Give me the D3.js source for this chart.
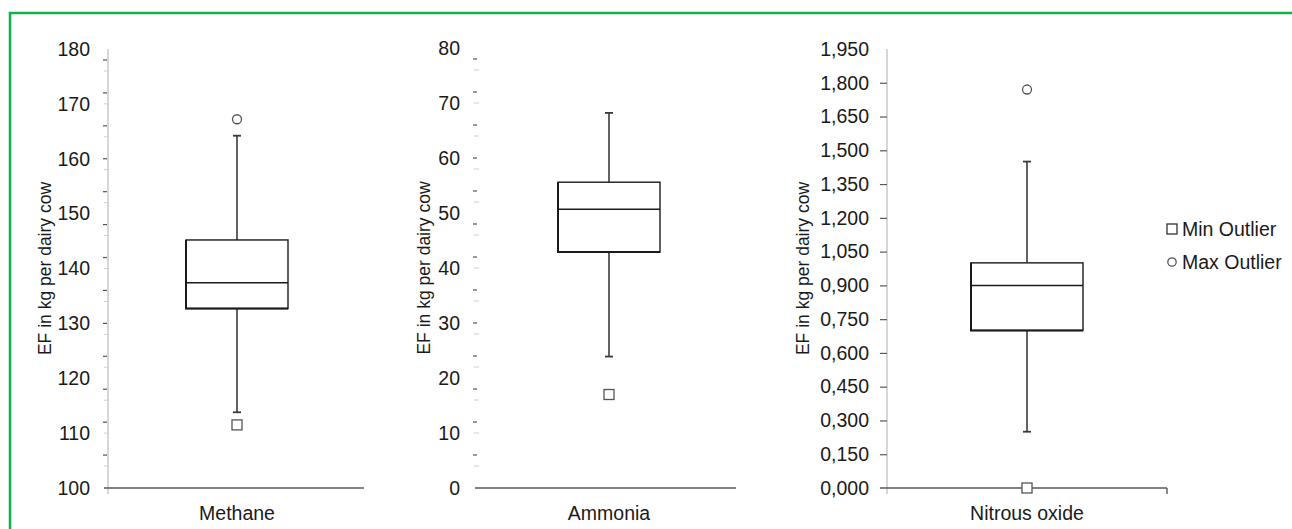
<!DOCTYPE html>
<html>
<head>
<meta charset="utf-8">
<script src="https://cdn.jsdelivr.net/npm/d3@7"></script>
<style>
  body { margin: 0; background: #fff; }
  svg text { font-family: "Liberation Sans", Arial, sans-serif; fill: #1a1a1a; }
</style>
</head>
<body>
<svg id="chart" width="1292" height="529"></svg>
<script>
// box plot values
var categories  = ["Methane", "Ammonia", "Nitrous oxide"];
var whiskerLow  = [113.8, 23.9, 0.25];
var q1          = [132.7, 42.9, 0.70];
var median      = [137.4, 50.7, 0.90];
var q3          = [145.2, 55.6, 1.00];
var whiskerHigh = [164.2, 68.2, 1.45];
var minOutlier  = [111.5, 17.0, 0.00];
var maxOutlier  = [167.2, null, 1.77];

var ticks1 = [100, 110, 120, 130, 140, 150, 160, 170, 180];
var ticks2 = [0, 10, 20, 30, 40, 50, 60, 70, 80];
var ticks3 = [0, 0.15, 0.30, 0.45, 0.60, 0.75, 0.90, 1.05, 1.20, 1.35, 1.50, 1.65, 1.80, 1.95];
var ticks3Labels = ["0,000","0,150","0,300","0,450","0,600","0,750","0,900","1,050","1,200","1,350","1,500","1,650","1,800","1,950"];

var legendLabels = ["Min Outlier", "Max Outlier"];

var svg = d3.select("#chart");

// green frame
svg.append("rect")
   .attr("x", 10).attr("y", 13)
   .attr("width", 1300).attr("height", 540)
   .attr("fill", "none")
   .attr("stroke", "#12b04c")
   .attr("stroke-width", 2.5);

var panels = [
  {axisX: 108, xStart: 104, xEnd: 364, cx: 237, boxW: 102, titleX: 45,
   domain: [100, 180], top: 49, ticks: ticks1, labels: null, minorFrom: 100, grayAxis: true, majorTicks: false},
  {axisX: 478, xStart: 475, xEnd: 736, cx: 609, boxW: 102, titleX: 424,
   domain: [0, 80], top: 48, ticks: ticks2, labels: null, minorFrom: 0, grayAxis: false, majorTicks: false},
  {axisX: 887, xStart: 880, xEnd: 1167, cx: 1027, boxW: 112, titleX: 803,
   domain: [0, 1.95], top: 49, ticks: ticks3, labels: ticks3Labels, minorFrom: null, grayAxis: true, majorTicks: true}
];

var baseY = 488;

panels.forEach(function(p, i){

  var y = d3.scaleLinear().domain(p.domain).range([baseY, p.top]);
  var g = svg.append("g");
  var boxW = p.boxW;

  // vertical axis line
  if (p.grayAxis) {
    g.append("line")
     .attr("x1", p.axisX).attr("x2", p.axisX)
     .attr("y1", p.top).attr("y2", baseY + 6)
     .attr("stroke", "#bdbdbd").attr("stroke-width", 1.2);
  }

  // odd minor ticks of the excel chart (two offset series)
  if (p.minorFrom !== null) {
    var dark = d3.range(p.minorFrom + 6, p.domain[1], 6);
    var light = d3.range(p.minorFrom + 4, p.domain[1], 6);
    g.selectAll(".lt").data(light).enter().append("line")
     .attr("x1", p.axisX - 4).attr("x2", p.axisX + 1)
     .attr("y1", function(d){ return y(d); })
     .attr("y2", function(d){ return y(d); })
     .attr("stroke", "#cfcfcf").attr("stroke-width", 1);
    g.selectAll(".dk").data(dark).enter().append("line")
     .attr("x1", p.axisX - 5).attr("x2", p.axisX - 1)
     .attr("y1", function(d){ return y(d); })
     .attr("y2", function(d){ return y(d); })
     .attr("stroke", "#555").attr("stroke-width", 1.2);
  }

  // tick labels
  var ax = d3.axisLeft(y)
             .tickValues(p.ticks)
             .tickSize(p.majorTicks ? 7 : 0)
             .tickPadding(p.majorTicks ? 11 : 18)
             .tickFormat(function(d, k){ return p.labels ? p.labels[k] : d; });
  var axG = g.append("g")
             .attr("transform", "translate(" + p.axisX + ",0)")
             .call(ax);
  axG.select(".domain").remove();
  axG.selectAll("text").style("font-size", "19.5px").attr("fill", "#1a1a1a")
     .style("font-family", "'Liberation Sans', Arial, sans-serif");
  axG.selectAll(".tick line").attr("stroke", "#595959").attr("stroke-width", 1.2)
     .filter(function(d){ return d === 0 || d === p.domain[1]; }).remove();

  // x axis line
  g.append("line")
   .attr("x1", p.xStart).attr("x2", p.xEnd)
   .attr("y1", baseY).attr("y2", baseY)
   .attr("stroke", "#595959").attr("stroke-width", 1.4);
  if (i === 2) {
    g.append("line")
     .attr("x1", p.xEnd).attr("x2", p.xEnd)
     .attr("y1", baseY).attr("y2", baseY + 6)
     .attr("stroke", "#595959").attr("stroke-width", 1.4);
  }

  // category label
  g.append("text")
   .attr("x", p.cx).attr("y", 520)
   .attr("text-anchor", "middle")
   .style("font-size", "19.5px")
   .text(categories[i]);

  // y axis title
  g.append("text")
   .attr("transform", "translate(" + (p.titleX + 6) + "," + (baseY + p.top) / 2 + ") rotate(-90)")
   .attr("text-anchor", "middle")
   .style("font-size", "17.5px")
   .text("EF in kg per dairy cow");

  // whiskers
  g.append("line")
   .attr("x1", p.cx).attr("x2", p.cx)
   .attr("y1", y(q3[i])).attr("y2", y(whiskerHigh[i]))
   .attr("stroke", "#3a3a3a").attr("stroke-width", 1.6);
  g.append("line")
   .attr("x1", p.cx).attr("x2", p.cx)
   .attr("y1", y(q1[i])).attr("y2", y(whiskerLow[i]))
   .attr("stroke", "#3a3a3a").attr("stroke-width", 1.6);
  [whiskerHigh[i], whiskerLow[i]].forEach(function(v){
    g.append("line")
     .attr("x1", p.cx - 4).attr("x2", p.cx + 4)
     .attr("y1", y(v)).attr("y2", y(v))
     .attr("stroke", "#3a3a3a").attr("stroke-width", 1.8);
  });

  // box
  g.append("rect")
   .attr("x", p.cx - boxW / 2).attr("y", y(q3[i]))
   .attr("width", boxW).attr("height", y(q1[i]) - y(q3[i]))
   .attr("fill", "#fff")
   .attr("stroke", "#1a1a1a").attr("stroke-width", 1.4);
  // heavier bottom and left edges as in the source
  g.append("path")
   .attr("d", "M" + (p.cx - boxW / 2) + "," + y(q3[i]) +
              "V" + y(q1[i]) + "H" + (p.cx + boxW / 2))
   .attr("fill", "none")
   .attr("stroke", "#1a1a1a").attr("stroke-width", 2);
  g.append("line")
   .attr("x1", p.cx - boxW / 2).attr("x2", p.cx + boxW / 2)
   .attr("y1", y(median[i])).attr("y2", y(median[i]))
   .attr("stroke", "#1a1a1a").attr("stroke-width", 1.5);

  // outliers
  if (minOutlier[i] !== null) {
    g.append("rect")
     .attr("x", p.cx - 5).attr("y", y(minOutlier[i]) - 5)
     .attr("width", 10).attr("height", 10)
     .attr("fill", "#fff")
     .attr("stroke", "#555").attr("stroke-width", 1.3);
  }
  if (maxOutlier[i] !== null) {
    g.append("circle")
     .attr("cx", p.cx).attr("cy", y(maxOutlier[i]))
     .attr("r", 4.5)
     .attr("fill", "#fff")
     .attr("stroke", "#555").attr("stroke-width", 1.3);
  }
});

// legend
var leg = svg.append("g").attr("transform", "translate(1172,0)");
leg.append("rect")
   .attr("x", -5).attr("y", 224).attr("width", 10).attr("height", 10)
   .attr("fill", "#fff").attr("stroke", "#333").attr("stroke-width", 1.3);
leg.append("circle")
   .attr("cx", 0).attr("cy", 262).attr("r", 4.2)
   .attr("fill", "#fff").attr("stroke", "#555").attr("stroke-width", 1.3);
leg.selectAll(".lt").data(legendLabels).enter().append("text")
   .attr("x", 10)
   .attr("y", function(d, k){ return 236 + k * 33; })
   .style("font-size", "19.5px")
   .text(function(d){ return d; });
</script>
</body>
</html>
